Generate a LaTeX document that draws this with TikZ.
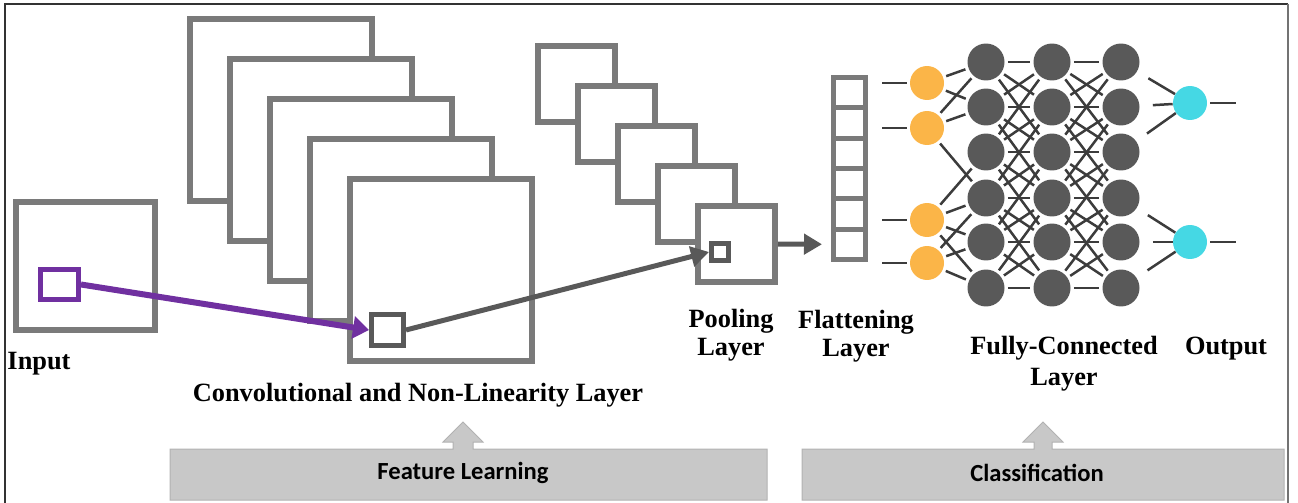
\documentclass[tikz,border=0pt]{standalone}
\usepackage{fontspec}
\setmainfont{Liberation Serif}
\newfontfamily\calfont{Carlito}
\usetikzlibrary{arrows.meta}
\definecolor{boxgray}{HTML}{7A7A7A}
\definecolor{darkgray}{HTML}{595959}
\definecolor{edgegray}{HTML}{3C3C3C}
\definecolor{purp}{HTML}{7030A0}
\definecolor{orng}{HTML}{FBB548}
\definecolor{cyn}{HTML}{45D8E4}
\definecolor{barfill}{HTML}{C8C8C8}
\definecolor{barline}{HTML}{B2B2B2}
\pgfdeclarelayer{bg}
\pgfsetlayers{bg,main}
\begin{document}
\begin{tikzpicture}[x=0.02cm,y=-0.02cm,
  inbox/.style={draw=boxgray,line width=0.12cm,fill=white,minimum width=2.78cm,minimum height=2.56cm,inner sep=0},
  inpatch/.style={draw=purp,line width=0.1cm,fill=white,minimum width=0.76cm,minimum height=0.6cm,inner sep=0},
  fmap/.style={draw=boxgray,line width=0.12cm,fill=white,minimum width=3.64cm,minimum height=3.64cm,inner sep=0},
  pmap/.style={draw=boxgray,line width=0.12cm,fill=white,minimum width=1.54cm,minimum height=1.52cm,inner sep=0},
  cpatch/.style={draw=darkgray,line width=0.1cm,fill=white,minimum width=0.64cm,minimum height=0.62cm,inner sep=0},
  ppatch/.style={draw=darkgray,line width=0.1cm,fill=white,minimum size=0.34cm,inner sep=0},
  cell/.style={draw=boxgray,line width=0.1cm,fill=white,minimum width=0.64cm,minimum height=0.6067cm,inner sep=0},
  purparrow/.style={draw=purp,line width=0.12cm,-{Triangle[length=0.32cm,width=0.44cm]}},
  grayarrow/.style={draw=darkgray,line width=0.1cm,-{Triangle[length=0.36cm,width=0.4cm]}},
  onode/.style={circle,fill=orng,minimum size=0.68cm,inner sep=0},
  dnode/.style={circle,fill=darkgray,minimum size=0.74cm,inner sep=0},
  cnode/.style={circle,fill=cyn,minimum size=0.68cm,inner sep=0},
  nnedge/.style={draw=edgegray,line width=0.05cm,shorten <=0.06cm,shorten >=0.06cm},
  lbl/.style={font=\bfseries\fontsize{15}{16}\selectfont,align=center,inner sep=0},
  barlbl/.style={font=\calfont\bfseries\fontsize{14}{15}\selectfont,inner sep=0},
  bar/.style={fill=barfill,draw=barline,line width=0.02cm}
]
\useasboundingbox (0,0) rectangle (1298,503);
% frame
\draw[line width=0.03cm,draw=black!80] (5,503) -- (5,4) -- (1288,4);
\draw[line width=0.04cm,draw=black!55] (1288,4) -- (1288,503);

% input
\node[inbox] (input) at (85.5,266) {};
\node[inpatch] (inpatch) at (59.5,284.5) {};

% convolution maps
\foreach \i in {0,...,4}
  \node[fmap] (conv\i) at ({281+40*\i},{110+40*\i}) {};
\node[cpatch] (convpatch) at (387.5,330) {};

% pooling maps
\foreach \i in {0,...,4}
  \node[pmap] (pool\i) at ({576.5+40*\i},{84+40*\i}) {};
\node[ppatch] (poolpatch) at (720,252) {};

% arrows
\draw[purparrow] (inpatch.east) -- (convpatch.west);
\draw[grayarrow] (convpatch.east) -- (poolpatch.west);

% flattening
\foreach \k in {1,...,6}
  \node[cell] (flat\k) at (849.5,{77.5+30.333*(\k-0.5)}) {};
\draw[grayarrow,shorten >=0.18cm] (pool4.east) -- (flat6.west);

% fully connected network
\foreach \k/\y in {1/83,2/128,3/220,4/263}
  \node[onode] (o\k) at (927,\y) {};
\foreach \c/\x in {1/986,2/1052,3/1121}
  \foreach \r/\y in {1/62,2/107,3/152,4/198,5/242,6/288}
    \node[dnode] (d\c\r) at (\x,\y) {};
\node[cnode] (c1) at (1190,103) {};
\node[cnode] (c2) at (1190,242) {};

\foreach \k/\y in {1/83,2/128,3/220,4/263}
  \coordinate (oi\k) at (882,\y);
\coordinate (co1) at (1236,103);
\coordinate (co2) at (1236,242);

\begin{pgfonlayer}{bg}
  \foreach \k in {1,...,4}
    \draw[nnedge,shorten <=0cm] (oi\k) -- (o\k);
  \foreach \a/\b in {1/1,1/2,2/1,2/2,2/4,3/3,3/4,3/5,3/6,4/4,4/5,4/6}
    \draw[nnedge] (o\a) -- (d1\b);
  \foreach \c/\n in {1/2,2/3}
    \foreach \i in {1,...,6}
      \foreach \j in {1,...,6}{
        \pgfmathtruncatemacro\dd{abs(\i-\j)}
        \ifnum\dd<3 \draw[nnedge] (d\c\i) -- (d\n\j); \fi
      }
  \foreach \r in {1,2,3}
    \draw[nnedge,shorten <=0.26cm,shorten >=0cm] (d3\r) -- (c1);
  \foreach \r in {4,5,6}
    \draw[nnedge,shorten <=0.26cm,shorten >=0cm] (d3\r) -- (c2);
  \draw[nnedge,shorten >=0cm] (c1) -- (co1);
  \draw[nnedge,shorten >=0cm] (c2) -- (co2);
\end{pgfonlayer}

% labels
\node[lbl] (linput) at (39,364) {Input};
\node[lbl] (lconv) at (418,395) {Convolutional and Non-Linearity Layer};
\node[lbl] (lpool) at (731,335) {Pooling\\Layer};
\node[lbl] (lflat) at (856,336) {Flattening\\Layer};
\node[lbl,font=\bfseries\fontsize{15}{17.6}\selectfont] (lfc) at (1064,364) {Fully-Connected\\Layer};
\node[lbl] (lout) at (1226,349) {Output};

% bottom bars
\draw[bar] (170,449) -- (453,449) -- (453,442) -- (443,442) -- (463,422) -- (483,442) -- (473,442) -- (473,449) -- (767,449) -- (767,500) -- (170,500) -- cycle;
\draw[bar] (802,449) -- (1034,449) -- (1034,442) -- (1023,442) -- (1043,422) -- (1063,442) -- (1052,442) -- (1052,449) -- (1284,449) -- (1284,500) -- (802,500) -- cycle;
\node[barlbl] (feat) at (463,473) {Feature Learning};
\node[barlbl] (cls) at (1037,473) {Classification};
\end{tikzpicture}
\end{document}
